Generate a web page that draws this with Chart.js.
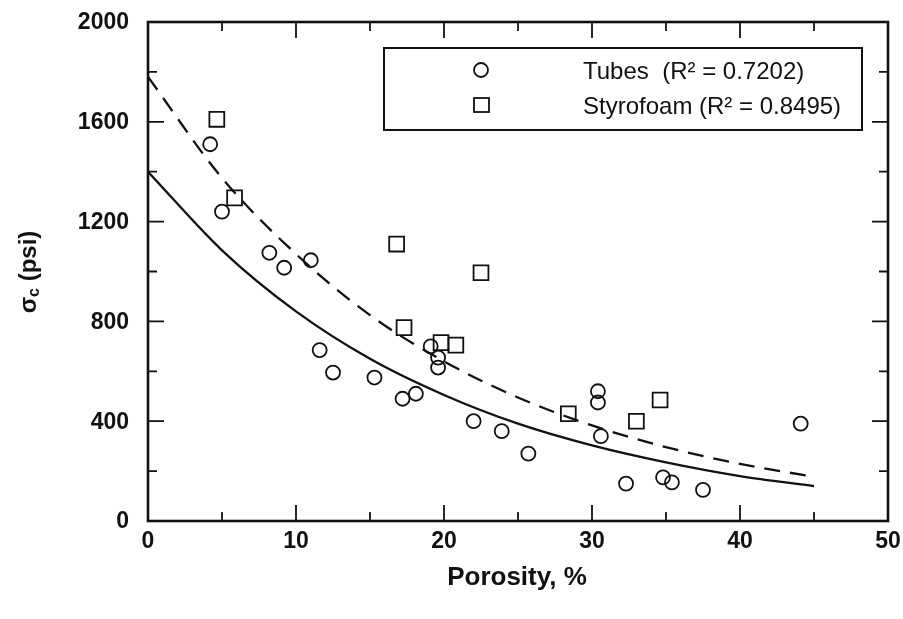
<!DOCTYPE html>
<html>
<head>
<meta charset="utf-8">
<script src="https://cdn.jsdelivr.net/npm/chart.js@4.4.1/dist/chart.umd.min.js"></script>
<style>
  html, body { margin: 0; padding: 0; background: #fff; }
</style>
</head>
<body>
<canvas id="c" width="903" height="619"></canvas>
<script>
// donnees
const tubesX = [4.2, 5.0, 8.2, 9.2, 11.0, 11.6, 12.5, 15.3, 17.2, 18.1, 19.1, 19.6, 19.6, 22.0, 23.9, 25.7, 30.4, 30.4, 30.6, 32.3, 34.8, 35.4, 37.5, 44.1];
const tubesY = [1510, 1240, 1075, 1015, 1045, 685, 595, 575, 490, 510, 700, 655, 615, 400, 360, 270, 520, 475, 340, 150, 175, 155, 125, 390];

const styroX = [4.65, 5.85, 16.8, 22.5, 17.3, 19.8, 20.8, 28.4, 33.0, 34.6];
const styroY = [1610, 1295, 1110, 995, 775, 715, 705, 430, 400, 485];

// courbes de tendance
const fitX = [0, 5, 10, 15, 20, 25, 30, 35, 40, 45];
const tubesFit = [1400, 1085, 840, 650, 505, 390, 303, 235, 180, 140];
const styroFit = [1780, 1375, 1070, 825, 640, 495, 383, 296, 229, 177];

const xTicks = [0, 10, 20, 30, 40, 50];
const yTicks = [0, 400, 800, 1200, 1600, 2000];

const legendLabels = ['Tubes  (R\u00B2 = 0.7202)', 'Styrofoam (R\u00B2 = 0.8495)'];
const xTitle = 'Porosity, %';

const ink = '#111';
const FONT = '"Liberation Sans", Arial, Helvetica, sans-serif';

function pts(xs, ys) {
  return xs.map((x, i) => ({ x: x, y: ys[i] }));
}

// cadre, graduations, etiquettes, titres et legende
const decor = {
  id: 'decor',
  afterDraw(chart) {
    const { ctx, chartArea: a, scales: { x, y } } = chart;
    ctx.save();
    ctx.strokeStyle = ink;
    ctx.fillStyle = ink;
    ctx.lineCap = 'butt';

    // graduations internes
    ctx.lineWidth = 1.8;
    for (let v = 0; v <= 50; v += 5) {
      const px = x.getPixelForValue(v);
      const len = v % 10 === 0 ? 16 : 9;
      ctx.beginPath();
      ctx.moveTo(px, a.bottom); ctx.lineTo(px, a.bottom - len);
      ctx.moveTo(px, a.top); ctx.lineTo(px, a.top + len);
      ctx.stroke();
    }
    for (let v = 0; v <= 2000; v += 200) {
      const py = y.getPixelForValue(v);
      const len = v % 400 === 0 ? 16 : 9;
      ctx.beginPath();
      ctx.moveTo(a.left, py); ctx.lineTo(a.left + len, py);
      ctx.moveTo(a.right, py); ctx.lineTo(a.right - len, py);
      ctx.stroke();
    }

    // cadre
    ctx.lineWidth = 2.6;
    ctx.strokeRect(a.left, a.top, a.right - a.left, a.bottom - a.top);

    // etiquettes des axes
    ctx.font = 'bold 23px ' + FONT;
    ctx.textBaseline = 'middle';
    ctx.textAlign = 'center';
    xTicks.forEach(v => ctx.fillText(String(v), x.getPixelForValue(v), a.bottom + 21));
    ctx.textAlign = 'right';
    yTicks.forEach(v => ctx.fillText(String(v), a.left - 19, y.getPixelForValue(v) + 1));

    // legende
    const lx = 384, ly = 48, lw = 478, lh = 82;
    ctx.fillStyle = '#fff';
    ctx.fillRect(lx, ly, lw, lh);
    ctx.lineWidth = 2;
    ctx.strokeRect(lx, ly, lw, lh);
    ctx.lineWidth = 1.8;
    ctx.beginPath();
    ctx.arc(481, 70, 7, 0, Math.PI * 2);
    ctx.stroke();
    ctx.strokeRect(474, 98, 15, 14);
    ctx.fillStyle = ink;
    ctx.font = '24px ' + FONT;
    ctx.textAlign = 'left';
    ctx.fillText(legendLabels[0], 583, 72);
    ctx.fillText(legendLabels[1], 583, 107);

    // titre axe x
    ctx.font = 'bold 26px ' + FONT;
    ctx.textAlign = 'center';
    ctx.fillText(xTitle, (a.left + a.right) / 2 - 1, 578);

    // titre axe y : sigma indice c (psi)
    ctx.translate(29, 272);
    ctx.rotate(-Math.PI / 2);
    const big = 'bold 24px ' + FONT, small = 'bold 16px ' + FONT;
    ctx.font = big;
    const w1 = ctx.measureText('\u03C3').width;
    const w3 = ctx.measureText(' (psi)').width;
    ctx.font = small;
    const w2 = ctx.measureText('c').width;
    const sx = -(w1 + w2 + w3) / 2;
    ctx.textAlign = 'left';
    ctx.font = big;
    ctx.fillText('\u03C3', sx, 0);
    ctx.font = small;
    ctx.fillText('c', sx + w1, 6);
    ctx.font = big;
    ctx.fillText(' (psi)', sx + w1 + w2, 0);
    ctx.restore();
  }
};

new Chart(document.getElementById('c'), {
  type: 'scatter',
  data: {
    datasets: [
      {
        label: 'Tubes',
        data: pts(tubesX, tubesY),
        pointStyle: 'circle',
        pointRadius: 7,
        borderColor: ink,
        backgroundColor: 'rgba(0,0,0,0)',
        borderWidth: 1.8,
        showLine: false
      },
      {
        label: 'Styrofoam',
        data: pts(styroX, styroY),
        pointStyle: 'rect',
        pointRadius: 10.5,
        borderColor: ink,
        backgroundColor: 'rgba(0,0,0,0)',
        borderWidth: 1.8,
        showLine: false
      },
      {
        label: 'Tubes fit',
        data: pts(fitX, tubesFit),
        showLine: true,
        pointRadius: 0,
        borderColor: ink,
        borderWidth: 2.3,
        cubicInterpolationMode: 'monotone'
      },
      {
        label: 'Styrofoam fit',
        data: pts(fitX, styroFit),
        showLine: true,
        pointRadius: 0,
        borderColor: ink,
        borderWidth: 2.3,
        borderDash: [16, 10],
        cubicInterpolationMode: 'monotone'
      }
    ]
  },
  options: {
    responsive: false,
    animation: false,
    layout: { padding: { top: 22, right: 15, left: 0, bottom: 0 } },
    plugins: {
      legend: { display: false },
      tooltip: { enabled: false }
    },
    scales: {
      x: {
        type: 'linear',
        min: 0,
        max: 50,
        afterFit: s => { s.height = 98; },
        grid: { display: false, drawTicks: false },
        border: { display: false },
        ticks: { display: false }
      },
      y: {
        type: 'linear',
        min: 0,
        max: 2000,
        afterFit: s => { s.width = 148; },
        grid: { display: false, drawTicks: false },
        border: { display: false },
        ticks: { display: false }
      }
    }
  },
  plugins: [decor]
});
</script>
</body>
</html>
